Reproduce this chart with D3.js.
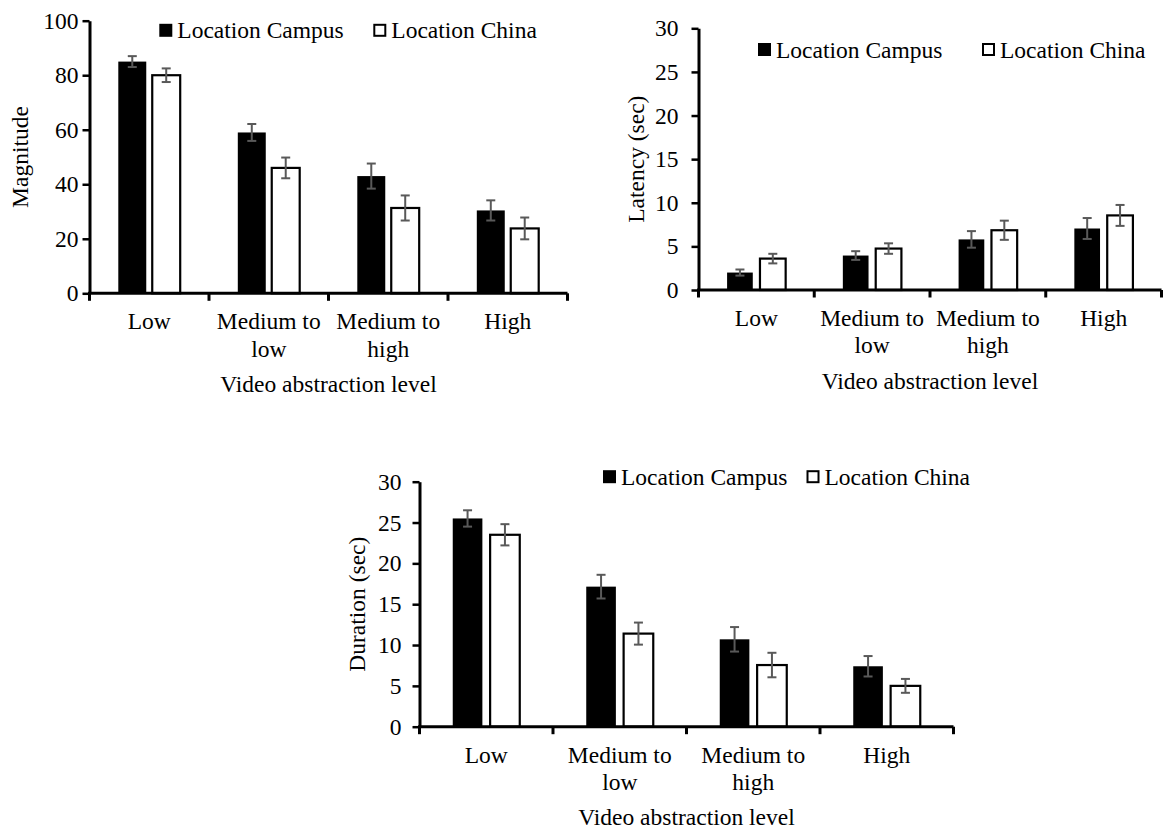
<!DOCTYPE html>
<html>
<head>
<meta charset="utf-8">
<script src="https://cdn.jsdelivr.net/npm/d3@7/dist/d3.min.js"></script>
<style>
  html, body { margin: 0; padding: 0; background: #fff; }
  svg { display: block; }
  text { font-family: "Liberation Serif", "Times New Roman", serif; fill: #000; }
</style>
</head>
<body>
<svg id="chart" width="1163" height="831"></svg>
<script>
// ---------------- DATA ----------------
const categories = ["Low", "Medium to low", "Medium to high", "High"];
const categoryLines = [["Low"], ["Medium to", "low"], ["Medium to", "high"], ["High"]];
const seriesNames = ["Location Campus", "Location China"];
const xAxisTitle = "Video abstraction level";

const magnitudeCampus    = [85.0, 59.0, 43.0, 30.4];
const magnitudeCampusErr = [2.0, 3.1, 4.6, 3.7];
const magnitudeChina     = [80.0, 46.0, 31.3, 23.8];
const magnitudeChinaErr  = [2.5, 3.8, 4.6, 4.0];

const latencyCampus    = [2.0, 3.95, 5.8, 7.05];
const latencyCampusErr = [0.35, 0.5, 0.95, 1.2];
const latencyChina     = [3.6, 4.75, 6.85, 8.55];
const latencyChinaErr  = [0.55, 0.6, 1.1, 1.2];

const durationCampus    = [25.5, 17.15, 10.7, 7.4];
const durationCampusErr = [1.0, 1.45, 1.5, 1.25];
const durationChina     = [23.5, 11.4, 7.55, 5.0];
const durationChinaErr  = [1.3, 1.35, 1.5, 0.85];

const magnitudeTicks = [0, 20, 40, 60, 80, 100];
const latencyTicks   = [0, 5, 10, 15, 20, 25, 30];
const durationTicks  = [0, 5, 10, 15, 20, 25, 30];

// ---------------- LAYOUT ----------------
const charts = [
  { title: "Magnitude", campus: magnitudeCampus, campusErr: magnitudeCampusErr,
    china: magnitudeChina, chinaErr: magnitudeChinaErr, ticks: magnitudeTicks,
    x0: 89.5, x1: 567.5, yTop: 20.7, yBottom: 293.3, labelGap: 11, titleX: 20,
    legendX: [159.3, 373.3], legendY: 30.3, barFrac: 0.234, gapFrac: 0.05 },
  { title: "Latency (sec)", campus: latencyCampus, campusErr: latencyCampusErr,
    china: latencyChina, chinaErr: latencyChinaErr, ticks: latencyTicks,
    x0: 698.5, x1: 1161.5, yTop: 28.3, yBottom: 290, labelGap: 20, titleX: 635.5,
    legendX: [758, 982], legendY: 49.5, barFrac: 0.222, gapFrac: 0.062 },
  { title: "Duration (sec)", campus: durationCampus, campusErr: durationCampusErr,
    china: durationChina, chinaErr: durationChinaErr, ticks: durationTicks,
    x0: 419.5, x1: 953.5, yTop: 481.7, yBottom: 726.7, labelGap: 18, titleX: 356.5,
    legendX: [603, 806.5], legendY: 476.7, barFrac: 0.222, gapFrac: 0.058 }
];

const FONT = 23.5;
const svg = d3.select("#chart");

charts.forEach(cfg => {
  const g = svg.append("g");
  const x = d3.scaleBand().domain(categories).range([cfg.x0, cfg.x1]).paddingInner(0).paddingOuter(0);
  const bw = x.bandwidth();
  const w = bw * cfg.barFrac, gap = bw * cfg.gapFrac;
  const xs = d3.scaleBand().domain(seriesNames)
    .range([bw / 2 - w - gap / 2, bw / 2 + w + gap / 2])
    .paddingInner(gap / (w + gap)).paddingOuter(0);
  const yMax = cfg.ticks[cfg.ticks.length - 1];
  const y = d3.scaleLinear().domain([0, yMax]).range([cfg.yBottom, cfg.yTop]);

  const rows = [];
  categories.forEach((c, i) => {
    rows.push({ cat: c, s: seriesNames[0], v: cfg.campus[i], e: cfg.campusErr[i] });
    rows.push({ cat: c, s: seriesNames[1], v: cfg.china[i], e: cfg.chinaErr[i] });
  });

  // bars
  g.selectAll("rect.bar").data(rows).join("rect")
    .attr("class", "bar")
    .attr("x", d => x(d.cat) + xs(d.s))
    .attr("width", xs.bandwidth())
    .attr("y", d => y(d.v))
    .attr("height", d => y(0) - y(d.v))
    .attr("fill", d => d.s === seriesNames[0] ? "#000" : "#fff")
    .attr("stroke", "#000")
    .attr("stroke-width", d => d.s === seriesNames[0] ? 0 : 2.2);

  // error bars
  const eb = g.selectAll("g.err").data(rows).join("g").attr("class", "err")
    .attr("stroke", "#595959").attr("stroke-width", 2).attr("fill", "none");
  const cx = d => x(d.cat) + xs(d.s) + xs.bandwidth() / 2;
  eb.append("line").attr("x1", cx).attr("x2", cx)
    .attr("y1", d => y(d.v + d.e)).attr("y2", d => y(d.v - d.e));
  eb.append("line").attr("x1", d => cx(d) - 4.5).attr("x2", d => cx(d) + 4.5)
    .attr("y1", d => y(d.v + d.e)).attr("y2", d => y(d.v + d.e));
  eb.append("line").attr("x1", d => cx(d) - 4.5).attr("x2", d => cx(d) + 4.5)
    .attr("y1", d => y(d.v - d.e)).attr("y2", d => y(d.v - d.e));

  // y axis
  const yAxis = d3.axisLeft(y).tickValues(cfg.ticks).tickSize(7).tickSizeOuter(0)
    .tickPadding(cfg.labelGap - 7).tickFormat(d3.format("d"));
  const ya = g.append("g").attr("transform", `translate(${cfg.x0},0)`).call(yAxis);
  ya.select(".domain").attr("stroke", "#000").attr("stroke-width", 3);
  ya.selectAll(".tick line").attr("stroke", "#000").attr("stroke-width", 2.5);
  ya.selectAll(".tick text").attr("font-size", FONT)
    .attr("font-family", "Liberation Serif, Times New Roman, serif").attr("fill", "#000");

  // x axis line + boundary ticks
  g.append("line").attr("x1", cfg.x0 - 1.5).attr("x2", cfg.x1)
    .attr("y1", y(0)).attr("y2", y(0)).attr("stroke", "#000").attr("stroke-width", 3);
  const bounds = categories.map(c => x(c)).concat([x(categories[categories.length - 1]) + bw]);
  g.selectAll("line.bt").data(bounds).join("line").attr("class", "bt")
    .attr("x1", d => d).attr("x2", d => d)
    .attr("y1", y(0)).attr("y2", y(0) + 7.5)
    .attr("stroke", "#000").attr("stroke-width", 3);

  // category labels
  const lab = g.selectAll("text.cat").data(categories).join("text").attr("class", "cat")
    .attr("text-anchor", "middle").attr("font-size", FONT)
    .attr("x", c => x(c) + bw / 2).attr("y", y(0) + 36);
  lab.each(function(c, i) {
    d3.select(this).selectAll("tspan").data(categoryLines[i]).join("tspan")
      .attr("x", x(c) + bw / 2).attr("dy", (d, j) => j === 0 ? 0 : 27.3).text(d => d);
  });

  // x title
  g.append("text").attr("text-anchor", "middle").attr("font-size", FONT)
    .attr("x", (cfg.x0 + cfg.x1) / 2).attr("y", y(0) + 98.5).text(xAxisTitle);

  // y title
  g.append("text").attr("text-anchor", "middle").attr("font-size", FONT)
    .attr("transform", `translate(${cfg.titleX + 8},${(cfg.yTop + cfg.yBottom) / 2}) rotate(-90)`)
    .text(cfg.title);

  // legend
  seriesNames.forEach((s, i) => {
    const lx = cfg.legendX[i];
    g.append("rect").attr("x", lx + (i === 0 ? 0 : 1)).attr("y", cfg.legendY - 6.5 + (i === 0 ? 0 : 1))
      .attr("width", i === 0 ? 13 : 11).attr("height", i === 0 ? 13 : 11)
      .attr("fill", i === 0 ? "#000" : "#fff").attr("stroke", "#000")
      .attr("stroke-width", i === 0 ? 0 : 2);
    g.append("text").attr("font-size", FONT).attr("x", lx + 18).attr("y", cfg.legendY + 8)
      .text(s);
  });
});
</script>
</body>
</html>
